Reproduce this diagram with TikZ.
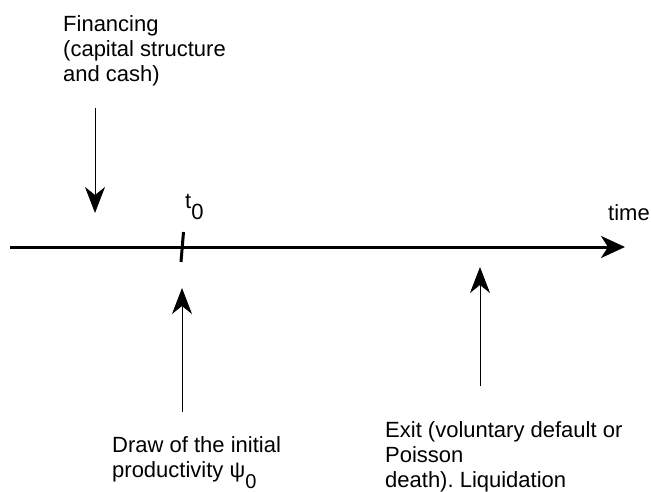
\documentclass[tikz,border=0pt]{standalone}
\usepackage{fontspec}
\setmainfont{Liberation Sans}
\usetikzlibrary{arrows.meta}
\frenchspacing

\tikzset{
  event text/.style={align=left, inner sep=0pt, anchor=base west, font=\fontsize{22}{25}\selectfont},
  event arrow/.style={-{Stealth[length=26pt,width=20pt,inset=8pt]}, line width=1pt},
  axis arrow/.style={line width=3pt, -{Stealth[length=24pt,width=22pt,inset=7pt]}},
}
\newcommand{\lowsub}[1]{\raisebox{-11pt}{#1}}

\begin{document}
\begin{tikzpicture}[x=1pt,y=-1pt]
\useasboundingbox (0,0) rectangle (651,492);
% time axis
\coordinate (axis start) at (10,247);
\coordinate (axis end) at (625,247);
\draw[axis arrow] (axis start) -- (axis end);
\node[event text] (time) at (608,221) {time};
% t0 tick
\coordinate (tick top) at (183.5,232);
\coordinate (tick bottom) at (181,262);
\draw[line width=3pt] (tick top) -- (tick bottom);
\node[event text] (t0) at (185,208) {t\lowsub{0}};
% financing
\node[event text] (fin) at (63,82) {Financing\\(capital structure\\and cash)};
\coordinate (fin start) at (95,108);
\coordinate (fin end) at (95,213);
\draw[event arrow] (fin start) -- (fin end);
% draw of productivity
\coordinate (draw start) at (182,412);
\coordinate (draw end) at (182,288);
\draw[event arrow] (draw start) -- (draw end);
\node[event text] (draw) at (112,477) {Draw of the initial\\productivity ψ{\fontsize{20}{22}\selectfont\lowsub{0}}};
% exit
\coordinate (exit start) at (480,386);
\coordinate (exit end) at (480,267);
\draw[event arrow] (exit start) -- (exit end);
\node[event text] (exit) at (385,487) {Exit (voluntary default or\\Poisson\\death). Liquidation};
\end{tikzpicture}
\end{document}
